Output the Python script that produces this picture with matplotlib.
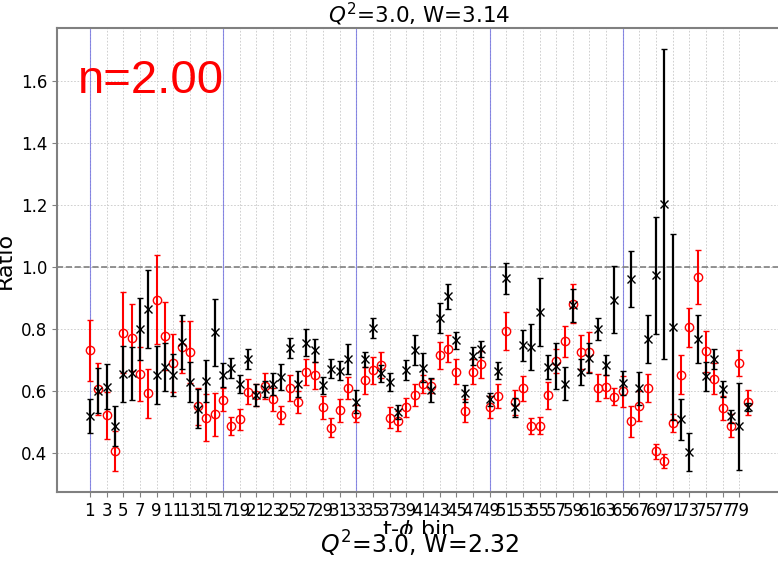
import matplotlib
matplotlib.use("Agg")
import matplotlib.pyplot as plt
from matplotlib.patches import Rectangle

bins = list(range(1, 81))

# black 'x' series
black_vals = [0.518, 0.601, 0.614, 0.488, 0.654, 0.657, 0.799, 0.865, 0.652, 0.678,
              0.651, 0.758, 0.629, 0.543, 0.632, 0.790, 0.652, 0.675, 0.622, 0.704,
              0.587, 0.606, 0.622, 0.645, 0.738, 0.622, 0.756, 0.732, 0.618, 0.672,
              0.665, 0.702, 0.566, 0.702, 0.804, 0.657, 0.629, 0.533, 0.668, 0.732,
              0.675, 0.603, 0.836, 0.906, 0.763, 0.592, 0.713, 0.736, 0.573, 0.665,
              0.963, 0.547, 0.747, 0.742, 0.855, 0.677, 0.681, 0.624, 0.876, 0.661,
              0.707, 0.801, 0.684, 0.895, 0.626, 0.961, 0.608, 0.768, 0.973, 1.203,
              0.806, 0.508, 0.403, 0.768, 0.647, 0.703, 0.606, 0.518, 0.486, 0.548]
black_errs = [0.055, 0.072, 0.072, 0.064, 0.090, 0.086, 0.100, 0.126, 0.094, 0.078,
              0.067, 0.087, 0.065, 0.062, 0.068, 0.108, 0.039, 0.032, 0.030, 0.033,
              0.035, 0.027, 0.036, 0.043, 0.033, 0.041, 0.043, 0.037, 0.028, 0.030,
              0.031, 0.048, 0.036, 0.025, 0.032, 0.027, 0.029, 0.023, 0.032, 0.049,
              0.047, 0.040, 0.048, 0.040, 0.028, 0.028, 0.028, 0.026, 0.020, 0.027,
              0.051, 0.030, 0.050, 0.073, 0.110, 0.040, 0.075, 0.052, 0.054, 0.043,
              0.049, 0.035, 0.031, 0.108, 0.039, 0.090, 0.054, 0.078, 0.188, 0.501,
              0.300, 0.065, 0.062, 0.078, 0.048, 0.033, 0.025, 0.020, 0.140, 0.013]

# red 'o' series
red_vals = [0.731, 0.606, 0.521, 0.406, 0.788, 0.772, 0.656, 0.592, 0.895, 0.777,
            0.691, 0.742, 0.726, 0.550, 0.514, 0.525, 0.571, 0.486, 0.509, 0.597,
            0.586, 0.616, 0.573, 0.522, 0.611, 0.564, 0.661, 0.651, 0.547, 0.482,
            0.537, 0.610, 0.527, 0.634, 0.667, 0.684, 0.514, 0.504, 0.547, 0.587,
            0.622, 0.616, 0.715, 0.737, 0.662, 0.536, 0.662, 0.686, 0.549, 0.584,
            0.793, 0.563, 0.608, 0.488, 0.488, 0.586, 0.697, 0.761, 0.882, 0.726,
            0.726, 0.611, 0.613, 0.581, 0.599, 0.502, 0.551, 0.610, 0.405, 0.373,
            0.497, 0.653, 0.805, 0.968, 0.728, 0.640, 0.545, 0.488, 0.690, 0.563]
red_errs = [0.098, 0.085, 0.075, 0.064, 0.130, 0.107, 0.087, 0.078, 0.145, 0.109,
            0.094, 0.085, 0.100, 0.061, 0.077, 0.070, 0.037, 0.029, 0.034, 0.040,
            0.036, 0.042, 0.038, 0.030, 0.042, 0.035, 0.042, 0.044, 0.038, 0.032,
            0.037, 0.035, 0.027, 0.043, 0.044, 0.043, 0.034, 0.032, 0.031, 0.035,
            0.028, 0.021, 0.043, 0.045, 0.040, 0.037, 0.040, 0.043, 0.036, 0.039,
            0.061, 0.040, 0.039, 0.026, 0.028, 0.043, 0.038, 0.050, 0.064, 0.054,
            0.064, 0.043, 0.037, 0.027, 0.050, 0.049, 0.048, 0.045, 0.024, 0.022,
            0.028, 0.062, 0.063, 0.086, 0.067, 0.049, 0.039, 0.038, 0.042, 0.039]

block_edges = [1, 17, 33, 49, 65]
xticks = list(range(1, 80, 2))

fig = plt.figure(figsize=(7.78, 5.61), dpi=100)
ax = fig.add_axes([0.0733, 0.123, 0.93, 0.827])

ax.errorbar(bins, red_vals, yerr=red_errs, fmt='o', color='red', mfc='none',
            markersize=6, elinewidth=1.5, capsize=2, zorder=3)
ax.errorbar(bins, black_vals, yerr=black_errs, fmt='x', color='black',
            markersize=6, elinewidth=1.6, capsize=2, zorder=4)

for b in block_edges:
    ax.axvline(b, color='#6060e0', alpha=0.7, linewidth=0.8, zorder=2)
ax.axhline(1.0, color='gray', linestyle='--', linewidth=1.2, zorder=2)

ax.set_xlim(-2.95, 83.95)
ax.set_ylim(0.274, 1.771)
ax.set_xticks(xticks)
ax.set_xticklabels([str(t) for t in xticks])
ax.set_yticks([0.4, 0.6, 0.8, 1.0, 1.2, 1.4, 1.6])
ax.tick_params(labelsize=12, color='gray')
ax.grid(True, linestyle=(0, (2, 2)), color='#c8c8c8', linewidth=0.6, zorder=0)
ax.set_axisbelow(True)
for s in ax.spines.values():
    s.set_color('gray')
    s.set_linewidth(1.5)

ax.set_title("$Q^2$=3.0, W=3.14", fontsize=15.5, pad=3)
ax.set_xlabel(r"t-$\phi$ bin", fontsize=16, labelpad=-1.5)
ax.set_ylabel("Ratio", fontsize=16)
ax.text(0.029, 0.861, "n=2.00", transform=ax.transAxes, color='red',
        fontsize=34, family='Liberation Sans', va='baseline')

# lower panel starts here (covers bottom of the xlabel)
fig.patches.append(Rectangle((0, 0), 1, 27 / 561, transform=fig.transFigure,
                             facecolor='white', edgecolor='none', zorder=5))
fig.text(0.54, 0.003, "$Q^2$=3.0, W=2.32", fontsize=17, ha='center',
         va='bottom', zorder=6)

fig.savefig("out.png", dpi=100)
